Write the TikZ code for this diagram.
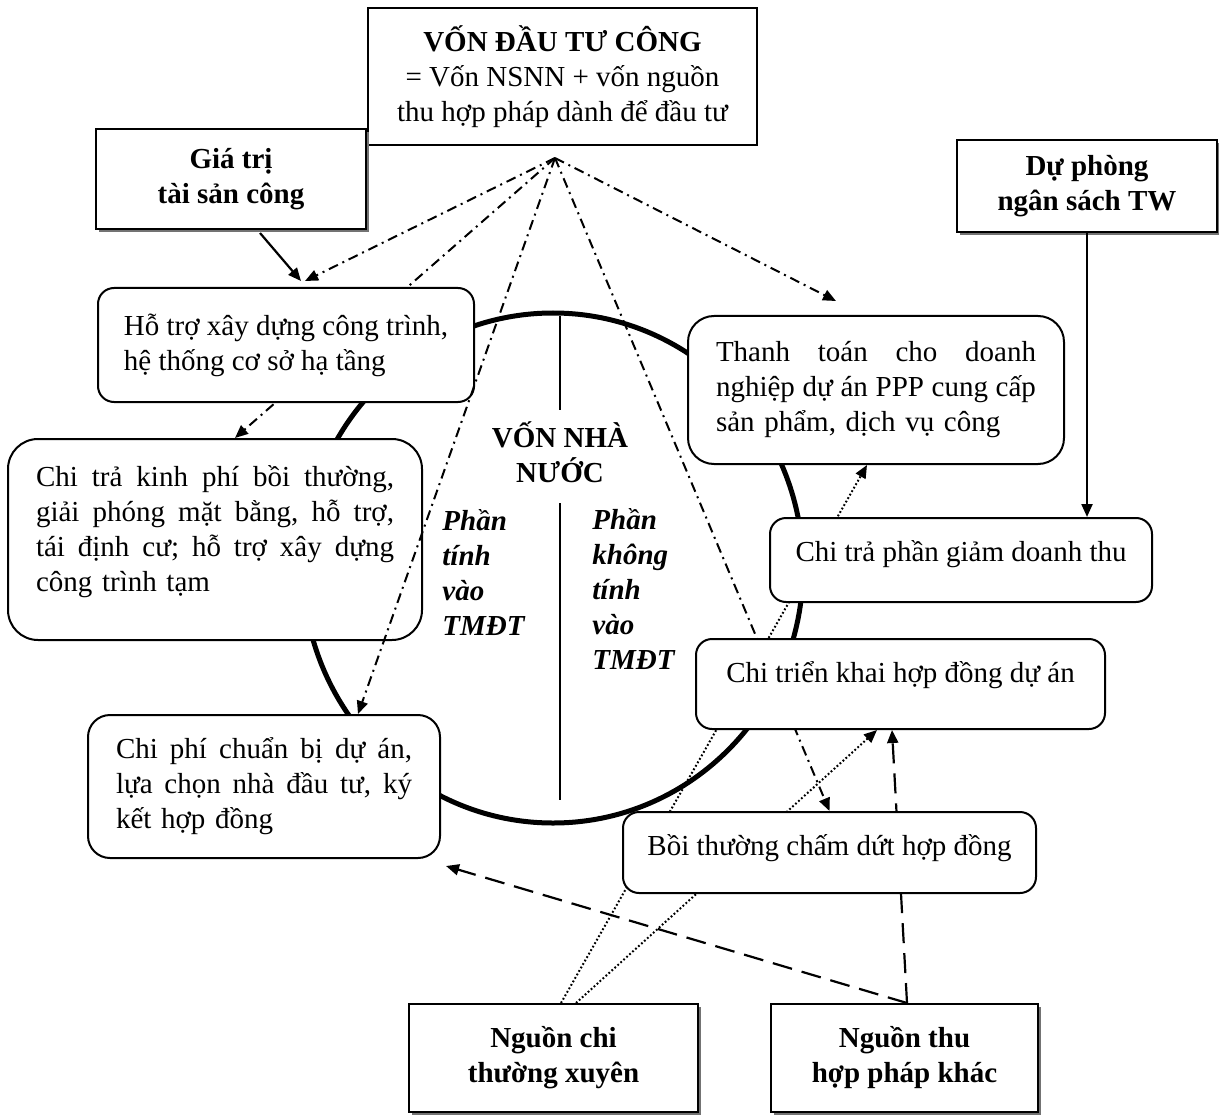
\documentclass[tikz,border=0pt]{standalone}
\usepackage{fontspec}
\setmainfont{Liberation Serif}
\usetikzlibrary{arrows.meta,shadows}
\pgfdeclarelayer{bg}
\pgfsetlayers{bg,main}
\newcommand\fsz{\fontsize{14.5}{17.5}\selectfont}
\newcommand\gp{\hskip 3.6pt plus 1fill minus 1.5pt\relax}
\newcommand\jl[2]{\leavevmode\hbox to #1{#2}}
\tikzset{
  boxbase/.style={draw, line width=1pt, fill=white, inner sep=0pt, font=\fsz},
  sqbox/.style={boxbase},
  rbox/.style={boxbase, rounded corners=8pt},
  shad/.style={drop shadow={shadow xshift=1.6pt, shadow yshift=-1.6pt, fill=black!55, opacity=1}},
  headtip/.style={-{Triangle[length=6.5pt,width=5.5pt]}},
  dashdot/.style={headtip, line width=1pt, dash pattern=on 5pt off 2.5pt on 1pt off 2.5pt},
  dotline/.style={headtip, line width=1pt, dash pattern=on 0.9pt off 1.1pt},
  longdash/.style={headtip, line width=1.1pt, dash pattern=on 10pt off 5pt},
  solidarrow/.style={headtip, line width=1.1pt},
  lbl/.style={font=\fsz\bfseries, inner sep=0pt},
}
\begin{document}
\begin{tikzpicture}[x=0.5pt,y=-0.5pt]
\useasboundingbox (0,0) rectangle (1219,1117);

% ---------- boxes ----------
\node[sqbox, line width=1.3pt, minimum width=194.5pt, minimum height=68.5pt, align=center] (top) at (562.5,76.5)
  {\textbf{VỐN ĐẦU TƯ CÔNG}\\= Vốn NSNN + vốn nguồn\\thu hợp pháp dành để đầu tư};
\node[sqbox, shad, minimum width=135pt, minimum height=50pt, align=center, font=\fsz\bfseries] (giatri) at (231,179)
  {Giá trị\\tài sản công};
\node[sqbox, shad, minimum width=130pt, minimum height=46pt, align=center, font=\fsz\bfseries] (duphong) at (1087,186)
  {Dự phòng\\ngân sách TW};
\node[rbox, rounded corners=8pt, minimum width=188pt, minimum height=57pt, align=left] (hotro) at (286,345)
  {Hỗ trợ xây dựng công trình,\\hệ thống cơ sở hạ tầng};
\node[rbox, rounded corners=15pt, minimum width=207pt, minimum height=100.5pt, text width=179pt, text depth=64pt] (chitra) at (215,539.5)
  {\jl{179pt}{Chi\gp trả\gp kinh\gp phí\gp bồi\gp thường,}\\
   \jl{179pt}{giải\gp phóng\gp mặt\gp bằng,\gp hỗ\gp trợ,}\\
   \jl{179pt}{tái\gp định\gp cư;\gp hỗ\gp trợ\gp xây\gp dựng}\\
   công trình tạm};
\node[rbox, rounded corners=11pt, minimum width=176pt, minimum height=71.5pt, text width=148pt] (chiphi) at (264,786.5)
  {\jl{148pt}{Chi\gp phí\gp chuẩn\gp bị\gp dự\gp án,}\\
   \jl{148pt}{lựa\gp chọn\gp nhà\gp đầu\gp tư,\gp ký}\\
   kết hợp đồng};
\node[rbox, rounded corners=13pt, minimum width=188pt, minimum height=74pt, text width=160pt] (thanhtoan) at (876,390)
  {\jl{160pt}{Thanh\gp toán\gp cho\gp doanh}\\
   \jl{160pt}{nghiệp\gp dự\gp án\gp PPP\gp cung\gp cấp}\\
   sản phẩm, dịch vụ công};
\node[rbox, minimum width=191pt, minimum height=42pt, text height=12pt, text depth=10.4pt] (giamthu) at (961,560)
  {Chi trả phần giảm doanh thu};
\node[rbox, minimum width=204.5pt, minimum height=45pt, text height=12pt, text depth=13.4pt] (chitrien) at (900.5,684)
  {Chi triển khai hợp đồng dự án};
\node[rbox, minimum width=206.5pt, minimum height=40.5pt, text height=12pt, text depth=9.4pt] (boithuong) at (829.5,852.5)
  {Bồi thường chấm dứt hợp đồng};
\node[sqbox, shad, minimum width=144.5pt, minimum height=54pt, align=center, font=\fsz\bfseries] (nguonchi) at (553.5,1058)
  {Nguồn chi\\thường xuyên};
\node[sqbox, shad, minimum width=133.5pt, minimum height=54pt, align=center, font=\fsz\bfseries] (nguonthu) at (904.5,1058)
  {Nguồn thu\\hợp pháp khác};

% ---------- centre texts ----------
\node[lbl, align=center] (vnn) at (560,452.5) {VỐN NHÀ\\NƯỚC};
\node[lbl, font=\fsz\bfseries\itshape, align=left, anchor=west] (ptinh) at (442,572.5) {Phần\\tính\\vào\\TMĐT};
\node[lbl, font=\fsz\bfseries\itshape, align=left, anchor=west] (pkhong) at (592,589) {Phần\\không\\tính\\vào\\TMĐT};

% ---------- coordinates ----------
\coordinate (S) at (555,158);
\coordinate (tipA) at (305,281);
\coordinate (tipG) at (301,281);
\coordinate (tipE) at (836,301);

% ---------- background: circle, divider, hidden connectors ----------
\begin{pgfonlayer}{bg}
  \draw[line width=2.5pt] (553,568) ellipse [x radius=125pt, y radius=127.5pt];
  \draw[line width=0.7pt] (560,316) -- (560,410);
  \draw[line width=0.7pt] (560,503) -- (560,800);
  \draw[dashdot] (S) -- ([xshift=10pt]chitra.north);
  \draw[dashdot] (S) -- (boithuong.north);
  \draw[dotline] ([xshift=3.75pt]nguonchi.north) -- ([xshift=-4.5pt]thanhtoan.south);
  \draw[dotline] ([xshift=11.25pt]nguonchi.north) -- ([xshift=-11.75pt]chitrien.south);
  \draw[longdash] ([xshift=1.25pt]nguonthu.north) -- ([xshift=-4.25pt]chitrien.south);
\end{pgfonlayer}

% ---------- visible connectors ----------
\draw[dashdot] (S) -- (tipA);
\draw[dashdot] (S) -- ([xshift=47pt]chiphi.north);
\draw[dashdot] (S) -- (tipE);
\draw[solidarrow] ([xshift=14.5pt,yshift=-1.5pt]giatri.south) -- (tipG);
\draw[solidarrow] (duphong.south) -- (duphong.south |- giamthu.north);
\draw[longdash] ([xshift=1.25pt]nguonthu.north) -- ([xshift=2.5pt,yshift=-3.5pt]chiphi.south east);
\end{tikzpicture}
\end{document}
